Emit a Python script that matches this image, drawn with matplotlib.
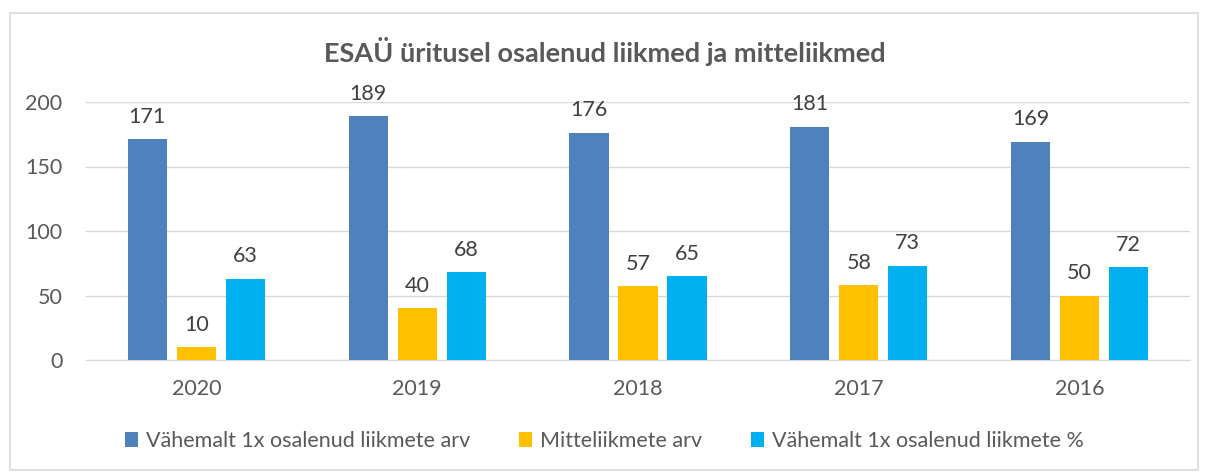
import numpy as np
import matplotlib.pyplot as plt
from matplotlib.patches import Rectangle

years = ['2020', '2019', '2018', '2017', '2016']
liikmed = [171, 189, 176, 181, 169]
mitteliikmed = [10, 40, 57, 58, 50]
protsent = [63, 68, 65, 73, 72]

series = [
    ('Vähemalt 1x osalenud liikmete arv', liikmed, '#4F81BD'),
    ('Mitteliikmete arv', mitteliikmed, '#FFC000'),
    ('Vähemalt 1x osalenud liikmete %', protsent, '#00B0F0'),
]

plt.rcParams['font.family'] = ['Lato', 'DejaVu Sans']
txt = '#595959'
fs = 15.5

fig = plt.figure(figsize=(12.09, 4.76), dpi=100)
fig.patches.append(Rectangle((10 / 1209, 1 - 470 / 476), 1188 / 1209, 457 / 476,
                             transform=fig.transFigure, fill=False,
                             edgecolor='#D9D9D9', linewidth=1.2))
ax = fig.add_axes([86 / 1209, 1 - 360 / 476, 1104 / 1209, 258 / 476])

x = np.arange(len(years))
w = 0.177
step = 0.222
handles = []
for i, (name, vals, col) in enumerate(series):
    pos = x + (i - 1) * step
    b = ax.bar(pos, vals, width=w, color=col, label=name, zorder=3)
    handles.append(b)
    for p, v in zip(pos, vals):
        ax.annotate(str(v), (p, v), xytext=(0, 9), textcoords='offset points',
                    ha='center', va='bottom', fontsize=fs, color='#404040')

ax.set_xlim(-0.5, 4.5)
ax.set_ylim(0, 200)
ax.set_yticks([0, 50, 100, 150, 200])
ax.set_xticks(x)
ax.set_xticklabels(years)
ax.yaxis.grid(True, color='#D9D9D9', linewidth=1, zorder=0)
for s in ['top', 'right', 'left']:
    ax.spines[s].set_visible(False)
ax.spines['bottom'].set_color('#D9D9D9')
ax.tick_params(axis='both', length=0, labelsize=fs, labelcolor=txt)
ax.tick_params(axis='y', pad=17)
ax.tick_params(axis='x', pad=14)

fig.text(0.5, 1 - 52 / 476, 'ESAÜ üritusel osalenud liikmed ja mitteliikmed',
         ha='center', va='center', fontsize=19.5, fontweight='bold', color=txt)

fig.legend(handles=handles, loc='center', bbox_to_anchor=(0.5, 1 - 441 / 476),
           ncol=3, frameon=False, fontsize=fs, labelcolor=txt,
           handlelength=0.6, handleheight=0.75, handletextpad=0.35, columnspacing=2.3)

fig.savefig('out.png', dpi=100)
